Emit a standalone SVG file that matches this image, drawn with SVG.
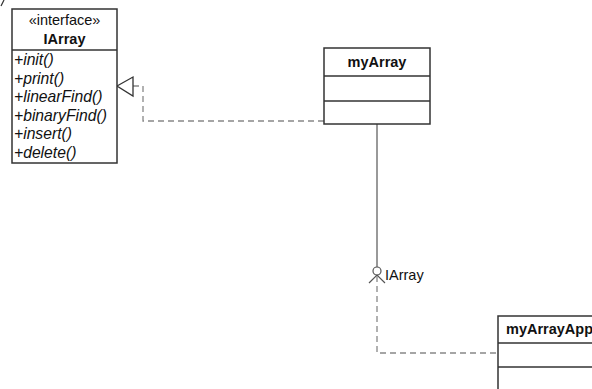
<svg xmlns="http://www.w3.org/2000/svg" width="592" height="389" viewBox="0 0 592 389">
<style>
.box{fill:#fff;stroke:#333;stroke-width:1.5}
.div{stroke:#333;stroke-width:1.5}
.dash{fill:none;stroke:#888;stroke-width:1.3;stroke-dasharray:6,4}
.solid{fill:none;stroke:#555;stroke-width:1.2}
.t{font-family:"Liberation Sans",Arial,sans-serif;fill:#111}
.b{font-weight:bold;font-size:14.5px}
.op{font-style:italic;font-size:15.7px}
</style>
<rect width="592" height="389" fill="#fff"/>
<path d="M1 6 L4 0" stroke="#333" stroke-width="1.2" fill="none"/>
<g id="connectors">
<polyline class="dash" points="133,86 143,86 143,121 324,121"/>
<polygon points="117,86 133,77 133,96" fill="#fff" stroke="#333" stroke-width="1.3"/>
<line class="solid" x1="377" y1="124" x2="377" y2="267"/>
<circle cx="377" cy="271" r="4" fill="#fff" stroke="#555" stroke-width="1.2"/>
<polyline class="solid" points="369,283 377,275 385,283"/>
<polyline class="dash" points="377,276 377,353 498,353"/>
<text class="t" x="385" y="280" font-size="14.5">IArray</text>
</g>
<g id="IArray">
<rect class="box" x="12" y="9" width="105" height="154"/>
<line class="div" x1="12" y1="50" x2="117" y2="50"/>
<text class="t" x="64.5" y="25" font-size="14.5" text-anchor="middle">«interface»</text>
<text class="t b" x="64.5" y="44" text-anchor="middle">IArray</text>
<text class="t op" x="14" y="65">+init()</text>
<text class="t op" x="14" y="84">+print()</text>
<text class="t op" x="14" y="102">+linearFind()</text>
<text class="t op" x="14" y="121">+binaryFind()</text>
<text class="t op" x="14" y="139">+insert()</text>
<text class="t op" x="14" y="158">+delete()</text>
</g>
<g id="myArray">
<rect class="box" x="324" y="48" width="106" height="76"/>
<line class="div" x1="324" y1="76" x2="430" y2="76"/>
<line class="div" x1="324" y1="101" x2="430" y2="101"/>
<text class="t b" x="377" y="67" text-anchor="middle">myArray</text>
</g>
<g id="myArrayApp">
<rect class="box" x="498" y="316" width="110" height="90"/>
<line class="div" x1="498" y1="343" x2="608" y2="343"/>
<line class="div" x1="498" y1="367" x2="608" y2="367"/>
<text class="t b" x="506" y="334">myArrayApp</text>
</g>
</svg>
